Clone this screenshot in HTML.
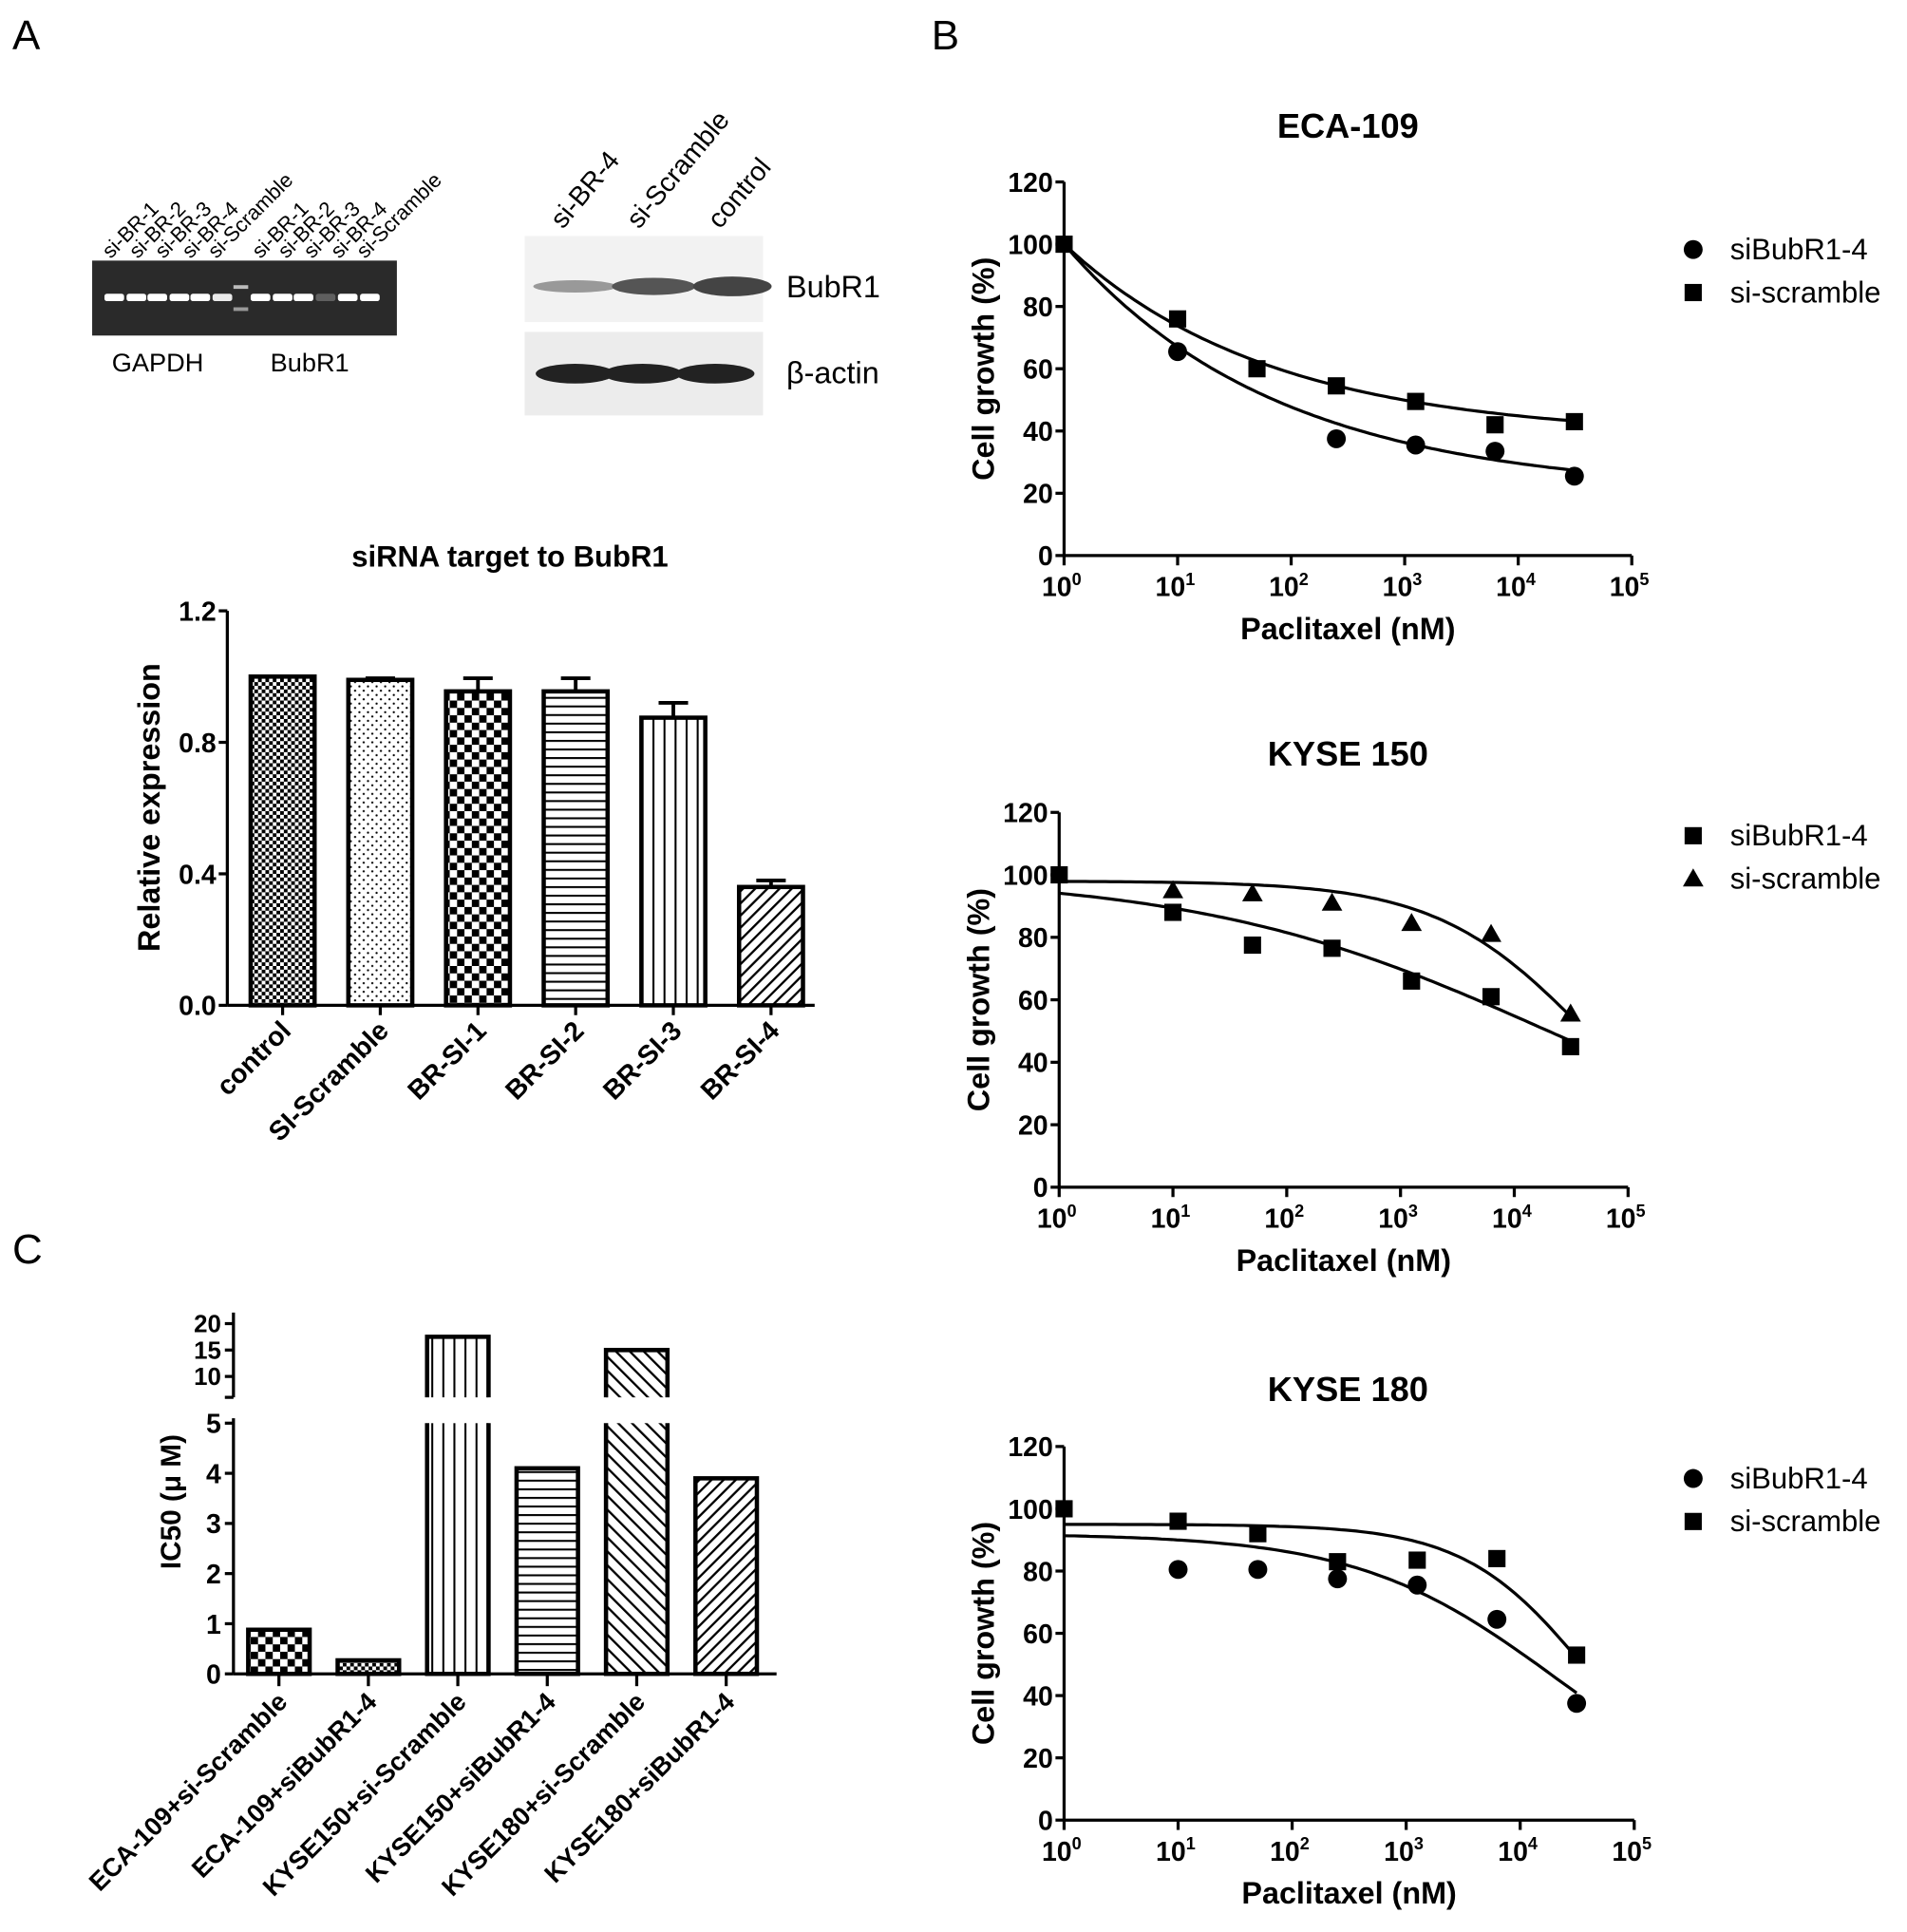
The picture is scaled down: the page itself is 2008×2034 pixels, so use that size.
<!DOCTYPE html>
<html><head><meta charset="utf-8"><style>
html,body{margin:0;padding:0;background:#fff}
svg{display:block}
text{font-family:"Liberation Sans",Arial,sans-serif;fill:#000}
.b{font-weight:bold}
</style></head><body>
<svg id="fig" width="2008" height="2034" viewBox="0 0 1552 1572" xmlns="http://www.w3.org/2000/svg">
<defs>
<pattern id="pCheckFine" width="6" height="6" patternUnits="userSpaceOnUse"><rect width="6" height="6" fill="#fff"/><rect width="3" height="3" fill="#000"/><rect x="3" y="3" width="3" height="3" fill="#000"/></pattern>
<pattern id="pDots" width="7" height="7" patternUnits="userSpaceOnUse"><rect width="7" height="7" fill="#fff"/><circle cx="2" cy="2" r="0.9" fill="#000"/><circle cx="5.5" cy="5.5" r="0.9" fill="#000"/></pattern>
<pattern id="pCheck" width="12" height="12" patternUnits="userSpaceOnUse"><rect width="12" height="12" fill="#fff"/><rect width="6" height="6" fill="#000"/><rect x="6" y="6" width="6" height="6" fill="#000"/></pattern>
<pattern id="pHoriz" width="10" height="7" patternUnits="userSpaceOnUse"><rect width="10" height="7" fill="#fff"/><rect y="0" width="10" height="1.6" fill="#000"/></pattern>
<pattern id="pVert" width="9" height="10" patternUnits="userSpaceOnUse"><rect width="9" height="10" fill="#fff"/><rect x="0" width="1.6" height="10" fill="#000"/></pattern>
<pattern id="pDiag" width="7" height="7" patternUnits="userSpaceOnUse" patternTransform="rotate(45)"><rect width="7" height="7" fill="#fff"/><rect width="1.8" height="7" fill="#000"/></pattern>
<pattern id="pDiag2" width="8" height="8" patternUnits="userSpaceOnUse" patternTransform="rotate(-45)"><rect width="8" height="8" fill="#fff"/><rect width="1.8" height="8" fill="#000"/></pattern>
</defs>

<text x="10" y="40" font-size="34">A</text>
<text x="758" y="40" font-size="34">B</text>
<text x="10" y="1028" font-size="34">C</text>

<g>
<rect x="75" y="212" width="248" height="61" fill="#2a2a2a"/>
<g id="gelbands"></g>
<text x="91" y="302" font-size="21">GAPDH</text>
<text x="220" y="302" font-size="21">BubR1</text>
</g>
<g id="gellabels"></g>

<g>
<rect x="427" y="192" width="194" height="70" fill="#f2f2f2"/>
<rect x="427" y="270" width="194" height="68" fill="#ececec"/>
<ellipse cx="468" cy="233" rx="34" ry="5" fill="#999"/>
<ellipse cx="532" cy="233" rx="34" ry="7" fill="#555"/>
<ellipse cx="596" cy="233" rx="32" ry="8" fill="#444"/>
<ellipse cx="468" cy="304" rx="32" ry="8" fill="#222"/>
<ellipse cx="523" cy="304" rx="32" ry="8" fill="#222"/>
<ellipse cx="582" cy="304" rx="32" ry="8" fill="#222"/>
<text x="640" y="242" font-size="25">BubR1</text>
<text x="640" y="312" font-size="25">β-actin</text>
<text transform="translate(458,187) rotate(-50)" font-size="22">si-BR-4</text>
<text transform="translate(520,187) rotate(-50)" font-size="22">si-Scramble</text>
<text transform="translate(586,187) rotate(-50)" font-size="22">control</text>
</g>

<g id="barA"></g>
<g id="barC"></g>
<g id="curves"></g>
</svg>
<script>
const aCategories = ["control","SI-Scramble","BR-SI-1","BR-SI-2","BR-SI-3","BR-SI-4"];
const aValues = [1.0, 0.99, 0.955, 0.955, 0.875, 0.36];
const aErrors = [0.0, 0.005, 0.04, 0.04, 0.045, 0.02];
const aTicks = [0.0, 0.4, 0.8, 1.2];
const aTickLabels = ["0.0","0.4","0.8","1.2"];
const cCategories = ["ECA-109+si-Scramble","ECA-109+siBubR1-4","KYSE150+si-Scramble","KYSE150+siBubR1-4","KYSE180+si-Scramble","KYSE180+siBubR1-4"];
const cValues = [0.88, 0.27, 17.5, 4.1, 15, 3.9];
const cLowTicks = [0,1,2,3,4,5];
const cHighTicks = [10,15,20];
const doses = [1, 10, 50, 250, 1250, 6250, 31250];
const xTickExps = [0,1,2,3,4,5];
const yTicks = [0,20,40,60,80,100,120];
const ecaSi = [null, 65.5, null, 37.5, 35.5, 33.5, 25.5];
const ecaScr = [100, 76, 60, 54.5, 49.5, 42, 43];
const k150Si = [100, 88, 77.5, 76.5, 66, 61, 45];
const k150Scr = [null, 95, 94, 91, 84.5, 81, 55.5];
const k180Si = [null, 80.5, 80.5, 77.5, 75.5, 64.5, 37.5];
const k180Scr = [100, 96, 92, 83, 83.5, 84, 53];
const ecaSiFit = ["exp", 20, 100, 0.53];
const ecaScrFit = ["exp", 38, 100, 0.55];
const k150SiFit = ["log", 0, 100, 4.3, 0.28];
const k150ScrFit = ["log", 0, 98, 4.65, 0.65];
const k180SiFit = ["log", 0, 92, 4.3, 0.5];
const k180ScrFit = ["log", 0, 95, 4.6, 0.8];

const NS = "http://www.w3.org/2000/svg";
function mk(tag, attrs, parent, txt){
  const e = document.createElementNS(NS, tag);
  for (const k in attrs) e.setAttribute(k, attrs[k]);
  if (txt !== undefined) e.textContent = txt;
  parent.appendChild(e);
  return e;
}

(function(){
  const g = document.getElementById('gelbands');
  const xs = [93,111,128,146,163,181,212,230,247,265,283,301];
  const br = [1,1,1,1,1,0.9,1,1,1,0.25,1,1];
  xs.forEach((x,i)=>{
    const b = mk('rect',{x:x-8,y:239,width:16,height:6,rx:2,fill:'#fff',opacity:br[i]},g);
    
    
  });
  mk('rect',{x:190,y:232,width:12,height:3,fill:'#bbb'},g);
  mk('rect',{x:190,y:250,width:12,height:3,fill:'#999'},g);
  const gl = document.getElementById('gellabels');
  const labs = ["si-BR-1","si-BR-2","si-BR-3","si-BR-4","si-Scramble","si-BR-1","si-BR-2","si-BR-3","si-BR-4","si-Scramble"];
  const lx = [90,112,133,155,176,212,233,254,276,297];
  labs.forEach((l,i)=>{
    const t = mk('text',{transform:`translate(${lx[i]},211) rotate(-45)`,'font-size':17},gl,l);
    
    
  });
})();

(function(){
  const g = document.getElementById('barA');
  const ax = 185, yb = 818, yt = 497;
  const y = v => yb - (v/1.2)*(yb-yt);
  const centers = i => 230 + i*79.5;
  const pats = ['pCheckFine','pDots','pCheck','pHoriz','pVert','pDiag'];
  const t = mk('text',{x:415,y:461,'font-size':24,'text-anchor':'middle',class:'b'},g,'siRNA target to BubR1');
  
  
  const yl = mk('text',{transform:'translate(130,657) rotate(-90)','font-size':25,'text-anchor':'middle',class:'b'},g,'Relative expression');
  
  
  aValues.forEach((v,i)=>{
    const cx = centers(i), w = 52;
    if (aErrors[i] > 0){
      mk('line',{x1:cx,x2:cx,y1:y(v),y2:y(v+aErrors[i]),stroke:'#000','stroke-width':3},g);
      mk('line',{x1:cx-12,x2:cx+12,y1:y(v+aErrors[i]),y2:y(v+aErrors[i]),stroke:'#000','stroke-width':3},g);
    }
    const r = mk('rect',{x:cx-w/2,y:y(v),width:w,height:yb-y(v),fill:`url(#${pats[i]})`,stroke:'#000','stroke-width':3.5},g);
    
    
    mk('line',{x1:cx,x2:cx,y1:yb,y2:yb+8,stroke:'#000','stroke-width':2.5},g);
    const lb = mk('text',{transform:`translate(${cx+8},${yb+22}) rotate(-45)`,'font-size':22,'text-anchor':'end',class:'b'},g,aCategories[i]);
    
    
  });
  mk('line',{x1:ax,x2:ax,y1:yt,y2:yb,stroke:'#000','stroke-width':2.5},g);
  mk('line',{x1:ax,x2:663,y1:yb,y2:yb,stroke:'#000','stroke-width':2.5},g);
  aTicks.forEach((v,i)=>{
    mk('line',{x1:ax-7,x2:ax,y1:y(v),y2:y(v),stroke:'#000','stroke-width':2.5},g);
    const tl = mk('text',{x:ax-9,y:y(v)+8,'font-size':22,'text-anchor':'end',class:'b'},g,aTickLabels[i]);
    
    
  });
})();

(function(){
  const g = document.getElementById('barC');
  const ax = 190, y0 = 1362, y5 = 1158, y10 = 1120, y20 = 1077;
  const yl = v => y0 - v/5*(y0-y5);
  const yh = v => y10 - (v-10)/10*(y10-y20);
  const brkTop = 1137;
  const cx = i => 227 + i*72.8;
  const pats = ['pCheck','pCheckFine','pVert','pHoriz','pDiag2','pDiag'];
  const t = mk('text',{transform:'translate(147,1222) rotate(-90)','font-size':23,'text-anchor':'middle',class:'b'},g,'IC50 (μ M)');
  
  
  cValues.forEach((v,i)=>{
    const c = cx(i), w = 50;
    if (v <= 5){
      const r = mk('rect',{x:c-w/2,y:yl(v),width:w,height:y0-yl(v),fill:`url(#${pats[i]})`,stroke:'#000','stroke-width':3.5},g);
      
      
    } else {
      const r = mk('rect',{x:c-w/2,y:y5,width:w,height:y0-y5,fill:`url(#${pats[i]})`,stroke:'none'},g);
      
      
      mk('path',{d:`M${c-w/2},${y5} V${y0} H${c+w/2} V${y5}`,fill:'none',stroke:'#000','stroke-width':3.5},g);
      const r2 = mk('rect',{x:c-w/2,y:yh(v),width:w,height:brkTop-yh(v),fill:`url(#${pats[i]})`,stroke:'none'},g);
      
      
      mk('path',{d:`M${c-w/2},${brkTop} V${yh(v)} H${c+w/2} V${brkTop}`,fill:'none',stroke:'#000','stroke-width':3.5},g);
    }
    mk('line',{x1:c,x2:c,y1:y0,y2:y0+10,stroke:'#000','stroke-width':2.5},g);
    const lb = mk('text',{transform:`translate(${c+8},${y0+24}) rotate(-45)`,'font-size':21,'text-anchor':'end',class:'b'},g,cCategories[i]);
    
    
  });
  mk('line',{x1:ax,x2:ax,y1:y5-4,y2:y0,stroke:'#000','stroke-width':2.5},g);
  mk('line',{x1:ax,x2:ax,y1:1068,y2:brkTop,stroke:'#000','stroke-width':2.5},g);
  mk('line',{x1:ax-7,x2:ax,y1:brkTop,y2:brkTop,stroke:'#000','stroke-width':2.5},g);
  mk('line',{x1:ax,x2:632,y1:y0,y2:y0,stroke:'#000','stroke-width':2.5},g);
  cLowTicks.forEach(v=>{
    mk('line',{x1:ax-7,x2:ax,y1:yl(v),y2:yl(v),stroke:'#000','stroke-width':2.5},g);
    const tl = mk('text',{x:ax-10,y:yl(v)+8,'font-size':22,'text-anchor':'end',class:'b'},g,String(v));
    
    
  });
  cHighTicks.forEach(v=>{
    mk('line',{x1:ax-7,x2:ax,y1:yh(v),y2:yh(v),stroke:'#000','stroke-width':2.5},g);
    const tl = mk('text',{x:ax-10,y:yh(v)+7,'font-size':20,'text-anchor':'end',class:'b'},g,String(v));
    
    
  });
})();

function fitVal(f, lx){
  if (f[0] === 'exp') return f[1] + (f[2]-f[1])*Math.exp(-f[3]*lx);
  return f[1] + (f[2]-f[1])/(1+Math.pow(10,(lx-f[3])*f[4]));
}
function marker(g, type, x, y, s){
  let e;
  if (type === 'circle') e = mk('circle',{cx:x,cy:y,r:s*0.55,fill:'#000'},g);
  else if (type === 'square') e = mk('rect',{x:x-s/2,y:y-s/2,width:s,height:s,fill:'#000'},g);
  else e = mk('path',{d:`M${x},${y-s*0.6} L${x+s*0.6},${y+s*0.45} L${x-s*0.6},${y+s*0.45} Z`,fill:'#000'},g);
  return e;
}
function doseChart(cfg){
  const g = mk('g',{},document.getElementById('curves'));
  
  
  const xs = lx => cfg.x0 + lx/5*(cfg.x5-cfg.x0);
  const ys = v => cfg.yb - v/120*(cfg.yb-cfg.yt);
  const tt = mk('text',{x:1097,y:cfg.titleY,'font-size':28,'text-anchor':'middle',class:'b'},g,cfg.title);
  
  
  mk('line',{x1:cfg.x0,x2:cfg.x0,y1:cfg.yt,y2:cfg.yb,stroke:'#000','stroke-width':2.5},g);
  mk('line',{x1:cfg.x0,x2:cfg.x5,y1:cfg.yb,y2:cfg.yb,stroke:'#000','stroke-width':2.5},g);
  yTicks.forEach(v=>{
    mk('line',{x1:cfg.x0-7,x2:cfg.x0,y1:ys(v),y2:ys(v),stroke:'#000','stroke-width':2.5},g);
    const tl = mk('text',{x:cfg.x0-9,y:ys(v)+8,'font-size':22,'text-anchor':'end',class:'b'},g,String(v));
    
    
  });
  xTickExps.forEach(e=>{
    mk('line',{x1:xs(e),x2:xs(e),y1:cfg.yb,y2:cfg.yb+8,stroke:'#000','stroke-width':2.5},g);
    const tl = mk('text',{x:xs(e)-2,y:cfg.yb+33,'font-size':22,'text-anchor':'middle',class:'b'},g);
    
    
    mk('tspan',{},tl,'10');
    mk('tspan',{dy:-9,'font-size':14},tl,String(e));
  });
  const xt = mk('text',{x:(cfg.x0+cfg.x5)/2,y:cfg.yb+68,'font-size':25,'text-anchor':'middle',class:'b'},g,'Paclitaxel (nM)');
  
  
  const yt = mk('text',{transform:`translate(${cfg.x0-57},${(cfg.yb+cfg.yt)/2}) rotate(-90)`,'font-size':25,'text-anchor':'middle',class:'b'},g,'Cell growth (%)');
  
  
  cfg.series.forEach((s,si)=>{
    let d = '';
    for (let k=0;k<=100;k++){
      const lx = Math.log10(doses[doses.length-1])*k/100;
      d += (k?'L':'M') + xs(lx).toFixed(1) + ',' + ys(fitVal(s.fit,lx)).toFixed(1);
    }
    const p = mk('path',{d:d,fill:'none',stroke:'#000','stroke-width':2.5},g);
    
    
    s.values.forEach((v,i)=>{
      if (v === null) return;
      const m = marker(g, s.marker, xs(Math.log10(doses[i])), ys(v), 14);
      
      
    });
    const ly = cfg.legendY + si*35;
    const lm = marker(g, s.marker, 1378, ly-8, 14);
    
    
    const lt = mk('text',{x:1408,y:ly,'font-size':24},g,s.label);
    
    
  });
}
doseChart({name:'eca109-chart',title:'ECA-109',titleY:112,x0:866,x5:1328,yb:452,yt:148,legendY:211,
  series:[{label:'siBubR1-4',marker:'circle',values:ecaSi,fit:ecaSiFit},{label:'si-scramble',marker:'square',values:ecaScr,fit:ecaScrFit}]});
doseChart({name:'kyse150-chart',title:'KYSE 150',titleY:623,x0:862,x5:1325,yb:966,yt:661,legendY:688,
  series:[{label:'siBubR1-4',marker:'square',values:k150Si,fit:k150SiFit},{label:'si-scramble',marker:'triangle',values:k150Scr,fit:k150ScrFit}]});
doseChart({name:'kyse180-chart',title:'KYSE 180',titleY:1140,x0:866,x5:1330,yb:1481,yt:1177,legendY:1211,
  series:[{label:'siBubR1-4',marker:'circle',values:k180Si,fit:k180SiFit},{label:'si-scramble',marker:'square',values:k180Scr,fit:k180ScrFit}]});
</script>
</body></html>
